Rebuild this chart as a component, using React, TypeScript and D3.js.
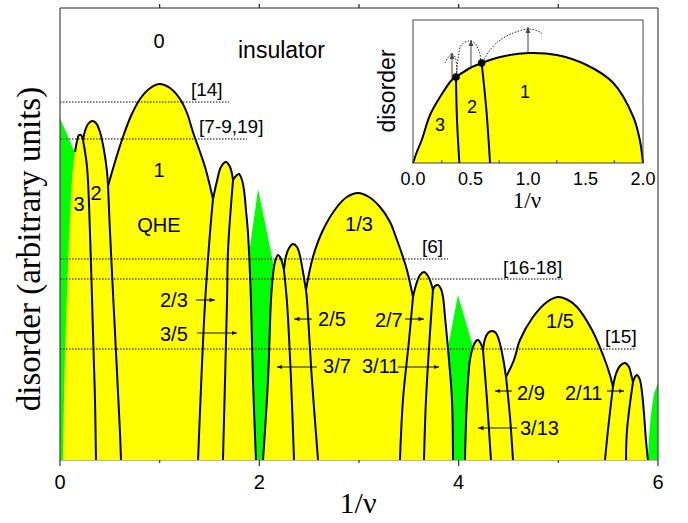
import React from 'react';
import * as d3 from 'd3';

type Pt = [number, number];

// ---------- axis ticks ----------
const xTicksMajor = [0, 2, 4, 6];
const xTicksMinor = [1, 3, 5];
const topTicks = [1, 2, 3, 4, 5];
const insetTickLabels = [0, 0.5, 1, 1.5, 2];
const insetMinorTicks = [0.25, 0.75, 1.25, 1.75];

// ---------- green regions (1/nu, disorder) ----------
const green0: Pt[] = [[0, 0], [0, 342], [1.465, 0]];
const green2: Pt[] = [[1.611, 0], [1.987, 271], [2.545, 0]];
const green4: Pt[] = [[3.678, 0], [3.993, 165], [4.471, 0]];
const green6: Pt[] = [[5.899, 0], [5.909, 22], [5.929, 45], [5.959, 66], [6.0, 77], [6.0, 0]];

// ---------- phase boundaries: segment 0..2 ----------
const dome3Side: Pt[] = [[0.03, 0], [0.04, 60], [0.08, 193], [0.13, 292], [0.151, 308]];
const arch3: Pt[] = [[0.151, 308], [0.171, 319], [0.191, 325], [0.211, 325], [0.231, 320]];
const arch2: Pt[] = [[0.231, 320], [0.251, 329], [0.281, 336], [0.321, 339], [0.361, 337], [0.401, 328], [0.441, 310], [0.472, 288], [0.482, 274]];
const arch1: Pt[] = [[0.482, 274], [0.522, 288], [0.582, 308], [0.642, 326], [0.712, 344], [0.803, 361], [0.893, 371], [0.993, 376], [1.104, 372], [1.204, 361], [1.274, 347], [1.334, 328], [1.405, 308], [1.455, 293], [1.495, 278], [1.535, 261]];
const arch23: Pt[] = [[1.535, 261], [1.575, 279], [1.615, 293], [1.666, 298], [1.706, 293], [1.736, 280]];
const arch35: Pt[] = [[1.736, 280], [1.766, 284], [1.796, 286], [1.826, 280], [1.846, 270], [1.866, 250], [1.886, 227], [1.916, 160], [1.936, 80], [1.966, 0]];
const leg32: Pt[] = [[0.231, 320], [0.271, 293], [0.301, 227], [0.331, 127], [0.351, 60], [0.361, 0]];
const leg21: Pt[] = [[0.482, 274], [0.502, 227], [0.552, 127], [0.602, 27], [0.612, 0]];
const leg1to23: Pt[] = [[1.535, 261], [1.505, 227], [1.455, 157], [1.385, 0]];
const leg23to35: Pt[] = [[1.736, 280], [1.686, 210], [1.676, 160], [1.635, 0]];

// ---------- segment 2..4 ----------
const arch37: Pt[] = [[2.037, 0], [2.087, 80], [2.117, 160], [2.137, 185], [2.157, 198], [2.187, 205], [2.217, 201], [2.247, 190]];
const arch25: Pt[] = [[2.247, 190], [2.268, 204], [2.298, 212], [2.338, 216], [2.378, 213], [2.408, 204], [2.438, 188], [2.468, 170]];
const arch13: Pt[] = [[2.468, 170], [2.538, 203], [2.639, 230], [2.779, 253], [2.879, 263], [2.99, 267], [3.1, 263], [3.211, 253], [3.311, 238], [3.381, 220], [3.441, 203], [3.481, 190], [3.542, 163]];
const arch27: Pt[] = [[3.542, 163], [3.572, 175], [3.612, 185], [3.652, 188], [3.692, 184], [3.722, 177], [3.742, 170]];
const arch311: Pt[] = [[3.742, 170], [3.762, 174], [3.793, 175], [3.823, 171], [3.843, 163], [3.863, 143], [3.903, 100], [3.933, 60], [3.943, 0]];
const leg37to25: Pt[] = [[2.247, 190], [2.278, 157], [2.318, 80], [2.348, 0]];
const leg25to13: Pt[] = [[2.468, 170], [2.478, 160], [2.528, 80], [2.589, 0]];
const leg13to27: Pt[] = [[3.542, 163], [3.502, 120], [3.441, 60], [3.411, 0]];
const leg27to311: Pt[] = [[3.742, 170], [3.712, 127], [3.672, 60], [3.652, 0]];

// ---------- segment 4..6 ----------
const arch313: Pt[] = [[4.063, 0], [4.083, 60], [4.113, 100], [4.144, 113], [4.174, 119], [4.194, 120], [4.224, 116], [4.244, 110]];
const arch29: Pt[] = [[4.244, 110], [4.264, 121], [4.294, 127], [4.334, 129], [4.374, 127], [4.404, 120], [4.445, 102], [4.475, 83]];
const arch15: Pt[] = [[4.475, 83], [4.555, 100], [4.615, 120], [4.746, 143], [4.886, 158], [4.996, 163], [5.097, 160], [5.187, 153], [5.338, 130], [5.448, 105], [5.518, 85], [5.548, 73]];
const arch211: Pt[] = [[5.548, 73], [5.578, 86], [5.618, 94], [5.669, 97], [5.709, 93], [5.729, 86], [5.749, 78]];
const archLast: Pt[] = [[5.749, 78], [5.769, 83], [5.789, 85], [5.819, 80], [5.839, 68], [5.859, 47], [5.879, 20], [5.899, 0]];
const leg313to29: Pt[] = [[4.244, 110], [4.284, 60], [4.324, 0]];
const leg29to15: Pt[] = [[4.475, 83], [4.515, 43], [4.545, 0]];
const leg15to211: Pt[] = [[5.548, 73], [5.498, 30], [5.468, 0]];
const leg211toLast: Pt[] = [[5.749, 78], [5.689, 30], [5.679, 0]];

// ---------- reference disorder levels ----------
const refLevels = [
  { label: '[14]', level: 358, xEnd: 1.696, lx: 1.314, ly: 364 },
  { label: '[7-9,19]', level: 321, xEnd: 1.876, lx: 1.395, ly: 327 },
  { label: '[6]', level: 201, xEnd: 3.893, lx: 3.632, ly: 207 },
  { label: '[16-18]', level: 181, xEnd: 5.047, lx: 4.445, ly: 186 },
  { label: '[15]', level: 111, xEnd: 5.779, lx: 5.468, ly: 117 },
];

// ---------- phase labels ----------
const phaseLabels = [
  { t: '0', x: 0.993, y: 412 },
  { t: '1', x: 0.993, y: 283 },
  { t: 'QHE', x: 0.993, y: 228 },
  { t: '3', x: 0.191, y: 249 },
  { t: '2', x: 0.361, y: 260 },
  { t: '1/3', x: 3.0, y: 229 },
  { t: '1/5', x: 5.017, y: 132 },
];
const fracLabels = [
  { t: '2/3', x: 1.003, y: 153, a0: 1.365, a1: 1.555, ay: 160 },
  { t: '3/5', x: 1.003, y: 119, a0: 1.375, a1: 1.776, ay: 127 },
  { t: '2/5', x: 2.589, y: 134, a0: 2.528, a1: 2.348, ay: 141 },
  { t: '3/7', x: 2.639, y: 87, a0: 2.579, a1: 2.177, ay: 93 },
  { t: '2/7', x: 3.16, y: 133, a0: 3.461, a1: 3.652, ay: 141 },
  { t: '3/11', x: 3.03, y: 87, a0: 3.391, a1: 3.803, ay: 93 },
  { t: '2/9', x: 4.585, y: 60, a0: 4.535, a1: 4.364, ay: 69 },
  { t: '3/13', x: 4.615, y: 25, a0: 4.585, a1: 4.194, ay: 32 },
  { t: '2/11', x: 5.067, y: 60, a0: 5.488, a1: 5.659, ay: 69 },
];

// ---------- inset ----------
const insetDome: Pt[] = [[0, 0], [0.03, 10], [0.076, 23], [0.148, 48], [0.235, 66], [0.337, 83], [0.374, 86], [0.496, 95], [0.597, 100], [0.757, 106], [1.003, 110], [1.25, 108], [1.51, 98], [1.742, 80], [1.916, 46], [1.974, 22], [2.0, 0]];
const insetLine1: Pt[] = [[0.374, 86], [0.382, 45], [0.403, 0]];
const insetLine2: Pt[] = [[0.597, 100], [0.638, 53], [0.67, 0]];
const insetDots: Pt[] = [[0.374, 86], [0.597, 100]];
const insetArrows = [
  { x: 0.339, y0: 83, y1: 110 },
  { x: 0.504, y0: 96, y1: 123 },
  { x: 1.0, y0: 110, y1: 136 },
];
const insetArc1: Pt[] = [[0.278, 100], [0.307, 106], [0.336, 109], [0.365, 106], [0.38, 96], [0.378, 88]];
const insetArc2: Pt[] = [[0.377, 87], [0.394, 106], [0.42, 118], [0.484, 122], [0.536, 120], [0.58, 110], [0.589, 101]];
const insetArc3: Pt[] = [[0.606, 101], [0.67, 113], [0.757, 123], [0.872, 130], [1.003, 134], [1.104, 131], [1.119, 129]];
const insetLabels = [
  { t: '1', x: 0.974, y: 65 },
  { t: '2', x: 0.513, y: 50 },
  { t: '3', x: 0.235, y: 32 },
];

const SANS = 'Liberation Sans, Arial, Helvetica, sans-serif';
const SERIF = 'Liberation Serif, Times New Roman, serif';
const YELLOW = '#ffff00';
const GREEN = '#00ff00';

export default function App() {
  const x = d3.scaleLinear().domain([0, 6]).range([60, 658]);
  const y = d3.scaleLinear().domain([0, 452]).range([460, 8]);
  const curve = d3.curveCatmullRom.alpha(0.5);
  const line = d3.line<Pt>().x((d) => x(d[0])).y((d) => y(d[1])).curve(curve);
  const poly = d3.line<Pt>().x((d) => x(d[0])).y((d) => y(d[1]));
  const join = (segs: Pt[][]) =>
    segs.map((s, i) => { const p = line(s)!; return i === 0 ? p : 'L' + p.slice(1); }).join('') + 'Z';

  const segA = join([dome3Side, arch3, arch2, arch1, arch23, arch35]);
  const segB = join([arch37, arch25, arch13, arch27, arch311]);
  const segC = join([arch313, arch29, arch15, arch211, archLast]);
  const strokes = [arch3, arch2, arch1, arch23, arch35, leg32, leg21, leg1to23, leg23to35,
    arch37, arch25, arch13, arch27, arch311, leg37to25, leg25to13, leg13to27, leg27to311,
    arch313, arch29, arch15, arch211, archLast, leg313to29, leg29to15, leg15to211, leg211toLast];

  // inset
  const ix = d3.scaleLinear().domain([0, 2]).range([413, 643]);
  const iy = d3.scaleLinear().domain([0, 143]).range([163, 20]);
  const iline = d3.line<Pt>().x((d) => ix(d[0])).y((d) => iy(d[1])).curve(curve);
  const insetFill = iline(insetDome)! + 'Z';

  return (
    <svg width={688} height={523} style={{ position: 'absolute', left: 0, top: 0, background: '#fff' }}>
      <defs>
        <marker id="ah" viewBox="0 0 10 10" refX="10" refY="5" markerWidth="5" markerHeight="5" orient="auto">
          <path d="M0,1 L10,5 L0,9 Z" fill="#111" />
        </marker>
        <marker id="ahg" viewBox="0 0 10 10" refX="10" refY="5" markerWidth="6" markerHeight="6" orient="auto">
          <path d="M0,1 L10,5 L0,9 Z" fill="#444" />
        </marker>
        <clipPath id="plotClip">
          <rect x={60} y={8} width={598} height={452} />
        </clipPath>
      </defs>

      {/* bottom axis line */}
      <line x1={60} x2={658} y1={460.5} y2={460.5} stroke="#b8b8a0" strokeWidth={1} />

      <g clipPath="url(#plotClip)">
        {[green0, green2, green4, green6].map((g, i) => (
          <path key={'g' + i} d={poly(g)! + 'Z'} fill={GREEN} />
        ))}
        {[segA, segB, segC].map((d, i) => (
          <path key={'y' + i} d={d} fill={YELLOW} />
        ))}
        {strokes.map((s, i) => (
          <path key={'s' + i} d={line(s)!} fill="none" stroke="#000" strokeWidth={2} strokeLinejoin="round" />
        ))}
        {refLevels.map((r, i) => (
          <line key={'r' + i} x1={x(0)} x2={x(r.xEnd)} y1={y(r.level)} y2={y(r.level)}
            stroke="#000" strokeWidth={1} strokeDasharray="1.5 1.5" />
        ))}
      </g>

      {/* frame */}
      <line x1={60} x2={60} y1={8} y2={460} stroke="#444" strokeWidth={1.2} />
      <line x1={60} x2={658} y1={8} y2={8} stroke="#222" strokeWidth={1.2} />
      <line x1={658} x2={658} y1={8} y2={460} stroke="#444" strokeWidth={1.2} />
      {topTicks.map((t) => (
        <line key={'tt' + t} x1={x(t)} x2={x(t)} y1={4} y2={8} stroke="#222" strokeWidth={1.2} />
      ))}
      {xTicksMajor.map((t) => (
        <line key={'bt' + t} x1={x(t)} x2={x(t)} y1={460} y2={466} stroke="#333" strokeWidth={1.2} />
      ))}
      {xTicksMinor.map((t) => (
        <line key={'bm' + t} x1={x(t)} x2={x(t)} y1={460} y2={463} stroke="#333" strokeWidth={1.2} />
      ))}
      {xTicksMajor.map((t) => (
        <text key={'tl' + t} x={x(t)} y={489} fontFamily={SANS} fontSize={20} textAnchor="middle">{t}</text>
      ))}

      {/* axis titles */}
      <text x={358} y={513} fontFamily={SERIF} fontSize={30} textAnchor="middle">1/ν</text>
      <text transform="translate(40,249) rotate(-90)" fontFamily={SERIF} fontSize={33} textAnchor="middle">
        disorder (arbitrary units)
      </text>

      {/* labels */}
      <text x={x(1.786)} y={y(402)} fontFamily={SANS} fontSize={23}>insulator</text>
      {phaseLabels.map((p, i) => (
        <text key={'p' + i} x={x(p.x)} y={y(p.y)} fontFamily={SANS} fontSize={20} textAnchor="middle">{p.t}</text>
      ))}
      {refLevels.map((r, i) => (
        <text key={'rl' + i} x={x(r.lx)} y={y(r.ly)} fontFamily={SANS} fontSize={19}>{r.label}</text>
      ))}
      {fracLabels.map((f, i) => (
        <g key={'f' + i}>
          <text x={x(f.x)} y={y(f.y)} fontFamily={SANS} fontSize={20}>{f.t}</text>
          <line x1={x(f.a0)} x2={x(f.a1)} y1={y(f.ay)} y2={y(f.ay)} stroke="#111" strokeWidth={1.1} markerEnd="url(#ah)" />
        </g>
      ))}

      {/* inset */}
      <rect x={413} y={20} width={230} height={143} fill="#fff" />
      <path d={insetFill} fill={YELLOW} />
      <path d={iline(insetDome)!} fill="none" stroke="#000" strokeWidth={2} />
      <path d={iline(insetLine1)!} fill="none" stroke="#000" strokeWidth={2} />
      <path d={iline(insetLine2)!} fill="none" stroke="#000" strokeWidth={2} />
      {[insetArc1, insetArc2, insetArc3].map((a, i) => (
        <path key={'ia' + i} d={iline(a)!} fill="none" stroke="#222" strokeWidth={1} strokeDasharray="1.5 1.5" />
      ))}
      {insetArrows.map((a, i) => (
        <line key={'iar' + i} x1={ix(a.x)} x2={ix(a.x)} y1={iy(a.y0)} y2={iy(a.y1)} stroke="#444" strokeWidth={1} markerEnd="url(#ahg)" />
      ))}
      {insetDots.map((d, i) => (
        <circle key={'id' + i} cx={ix(d[0])} cy={iy(d[1])} r={3.8} fill="#000" />
      ))}
      <rect x={413} y={20} width={230} height={143} fill="none" stroke="#444" strokeWidth={1} />
      {insetMinorTicks.map((t) => (
        <line key={'imt' + t} x1={ix(t)} x2={ix(t)} y1={163} y2={160} stroke="#333" strokeWidth={1} />
      ))}
      {insetTickLabels.map((t) => (
        <text key={'itl' + t} x={ix(t)} y={185} fontFamily={SANS} fontSize={18} textAnchor="middle">{t.toFixed(1)}</text>
      ))}
      {insetLabels.map((l, i) => (
        <text key={'il' + i} x={ix(l.x)} y={iy(l.y)} fontFamily={SANS} fontSize={18} textAnchor="middle">{l.t}</text>
      ))}
      <text x={527} y={208} fontFamily={SERIF} fontSize={23} textAnchor="middle">1/ν</text>
      <text transform="translate(395,91) rotate(-90)" fontFamily={SANS} fontSize={23} textAnchor="middle">disorder</text>
    </svg>
  );
}
